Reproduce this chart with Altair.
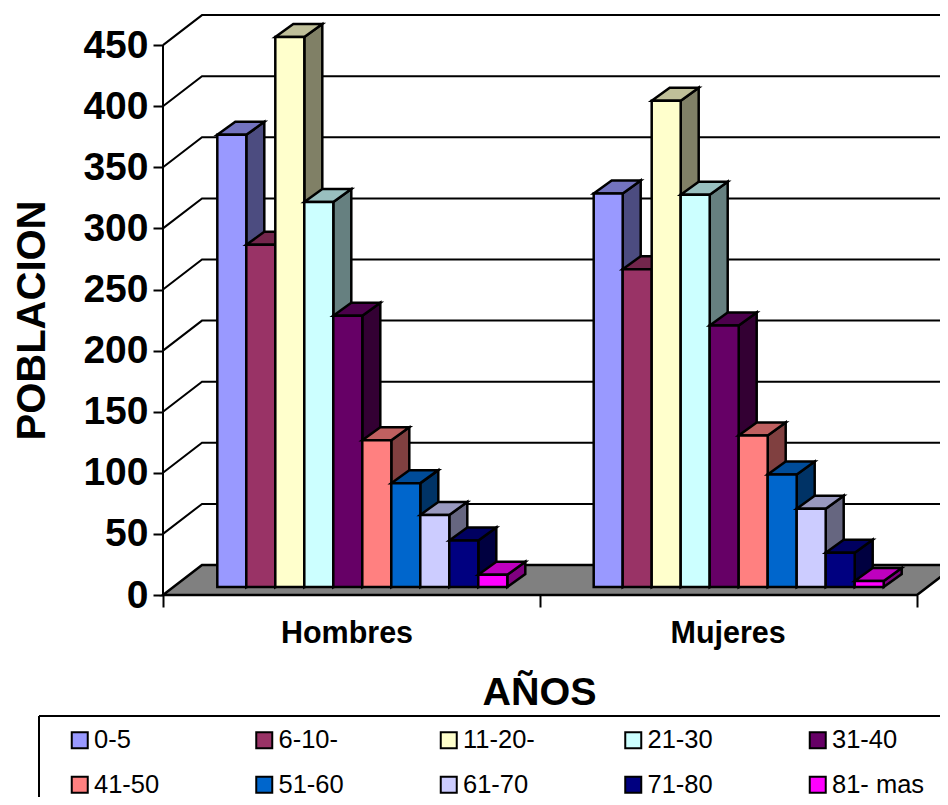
import altair as alt
import pandas as pd

ages = ["0-5", "6-10-", "11-20-", "21-30", "31-40", "41-50", "51-60", "61-70", "71-80", "81- mas"]
groups = ["Hombres", "Mujeres"]
hombres = [370, 280, 450, 315, 222, 120, 85, 59, 38, 10]
mujeres = [322, 260, 398, 321, 214, 124, 92, 64, 28, 5]
front_colors = ["#9999FF", "#993366", "#FFFFCC", "#CCFFFF", "#660066", "#FF8080", "#0066CC", "#CCCCFF", "#000080", "#FF00FF"]
ticks = [0, 50, 100, 150, 200, 250, 300, 350, 400, 450]

FONT = "Liberation Sans"
CAT_PX = 377.0
UNIT_PX = 1.222
PLOT_W, PLOT_H = 777, 587
X_MAX = PLOT_W / CAT_PX
Y_MAX = PLOT_H / UNIT_PX


def shade(hex_color, k):
    rgb = [int(hex_color[i:i + 2], 16) for i in (1, 3, 5)]
    return "#%02X%02X%02X" % tuple(round(c * k) for c in rgb)


# Depth offsets of the 3D projection, in scale units
wall_dx, wall_dy = 39 / CAT_PX, 30 / UNIT_PX
bar_dx, bar_dy = 18 / CAT_PX, 13 / UNIT_PX
bar_w = 29 / CAT_PX
bar_start = 54.3 / CAT_PX
bar_base = 8 / UNIT_PX

faces = []
for g, series in enumerate([hombres, mujeres]):
    for i, v in enumerate(series):
        x0 = g + bar_start + i * bar_w - (g * 0.6 / CAT_PX)
        x1 = x0 + bar_w
        b = bar_base
        t = bar_base + v
        c = front_colors[i]
        key = f"g{g}b{i:02d}"
        for x, y, y2 in [(x1, b, t), (x1 + bar_dx, b + bar_dy, t + bar_dy)]:
            faces.append(dict(face=key + "a_side", x=x, y=y, y2=y2, fill=shade(c, 0.5)))
        for x, y, y2 in [(x0, t, t), (x0 + bar_dx, t, t + bar_dy), (x1, t, t + bar_dy), (x1 + bar_dx, t + bar_dy, t + bar_dy)]:
            faces.append(dict(face=key + "b_top", x=x, y=y, y2=y2, fill=shade(c, 0.75)))
        for x in (x0, x1):
            faces.append(dict(face=key + "c_front", x=x, y=b, y2=t, fill=c))
faces_df = pd.DataFrame(faces)

floor_df = pd.DataFrame([
    dict(x=0, y=0, y2=0),
    dict(x=wall_dx, y=0, y2=wall_dy),
    dict(x=2, y=0, y2=wall_dy),
    dict(x=2 + wall_dx, y=wall_dy, y2=wall_dy),
])

grid = []
for t in ticks[1:]:
    grid += [dict(t=t, x=0, y=t), dict(t=t, x=wall_dx, y=t + wall_dy), dict(t=t, x=2 + wall_dx, y=t + wall_dy)]
grid_df = pd.DataFrame(grid)

xs = alt.Scale(domain=[0, X_MAX], nice=False, zero=False)
ys = alt.Scale(domain=[0, Y_MAX], nice=False, zero=False)

X_AXIS = alt.Axis(
    values=[0, 1, 2], labels=False, domain=False, grid=False, ticks=True, tickSize=12,
    tickColor="black", tickWidth=2, title="AÑOS", titleFont=FONT, titleFontSize=39.5,
    titleFontWeight="bold", titleColor="black", titleX=376, titleY=97, titleBaseline="middle",
)
Y_AXIS = alt.Axis(
    values=ticks, domain=False, grid=False, tickSize=10, tickColor="black", tickWidth=2,
    labelFont=FONT, labelFontSize=39, labelFontWeight="bold", labelColor="black", labelPadding=5,
    title="POBLACION", titleFont=FONT, titleFontSize=40, titleFontWeight="bold", titleColor="black",
    titleX=-131, titleY=312, titleAngle=270, titleBaseline="middle", titleAlign="center",
)

floor = alt.Chart(floor_df).mark_area(
    color="#808080", stroke="black", strokeWidth=2.5, orient="vertical"
).encode(
    x=alt.X("x:Q", scale=xs, axis=X_AXIS),
    y=alt.Y("y:Q", scale=ys, axis=Y_AXIS, stack=None),
    y2="y2:Q",
)

gridlines = alt.Chart(grid_df).mark_line(color="black", strokeWidth=2).encode(
    x=alt.X("x:Q", scale=xs, axis=X_AXIS),
    y=alt.Y("y:Q", scale=ys, axis=Y_AXIS),
    detail="t:N",
    order="x:Q",
)

axis_line = alt.Chart(pd.DataFrame(dict(x=[0], y=[ticks[0]], y2=[ticks[-1]]))).mark_rule(
    color="black", strokeWidth=2
).encode(
    x=alt.X("x:Q", scale=xs, axis=X_AXIS),
    y=alt.Y("y:Q", scale=ys, axis=Y_AXIS),
    y2="y2:Q",
)

bars = alt.Chart(faces_df).mark_area(
    stroke="black", strokeWidth=2.5, strokeJoin="miter", orient="vertical"
).encode(
    x=alt.X("x:Q", scale=xs, axis=X_AXIS),
    y=alt.Y("y:Q", scale=ys, axis=Y_AXIS, stack=None),
    y2="y2:Q",
    fill=alt.Fill("fill:N", scale=None),
    detail="face:N",
)

group_labels = alt.Chart(pd.DataFrame(dict(name=groups, x=[0.488, 1.499]))).mark_text(
    font=FONT, fontSize=30.5, fontWeight="bold", color="black", align="center", baseline="middle"
).encode(
    x=alt.X("x:Q", scale=xs, axis=X_AXIS),
    y=alt.value(626),
    text="name:N",
)

legend_layer = alt.Chart(pd.DataFrame(dict(age=ages))).mark_square(opacity=0).encode(
    x=alt.value(0),
    y=alt.value(0),
    color=alt.Color(
        "age:N",
        sort=ages,
        scale=alt.Scale(domain=ages, range=front_colors),
        legend=alt.Legend(
            title=None, orient="none", legendX=-96, legendY=719, columns=5, direction="horizontal",
            gridAlign="all", columnPadding=64.5, rowPadding=18, symbolType="square", symbolSize=256,
            symbolStrokeColor="black", symbolStrokeWidth=2, symbolOpacity=1, labelOffset=1.5,
            labelFont=FONT, labelFontSize=25.5, labelColor="black", labelLimit=200,
        ),
    ),
)

frame_top = alt.Chart(pd.DataFrame(dict(a=[0]))).mark_rule(color="black", strokeWidth=2).encode(
    x=alt.value(-124), x2=alt.value(PLOT_W), y=alt.value(708)
)
frame_left = alt.Chart(pd.DataFrame(dict(a=[0]))).mark_rule(color="black", strokeWidth=2).encode(
    x=alt.value(-124), y=alt.value(708), y2=alt.value(789)
)

chart = alt.layer(
    floor, gridlines, axis_line, bars, group_labels, legend_layer, frame_top, frame_left
).properties(
    width=PLOT_W,
    height=PLOT_H,
    padding={"left": 155, "top": 0, "right": 0, "bottom": 202},
    autosize=alt.AutoSizeParams(type="none"),
    background="white",
).configure_view(stroke=None)

chart.save("out.html", embed_options={"renderer": "svg", "actions": False})
